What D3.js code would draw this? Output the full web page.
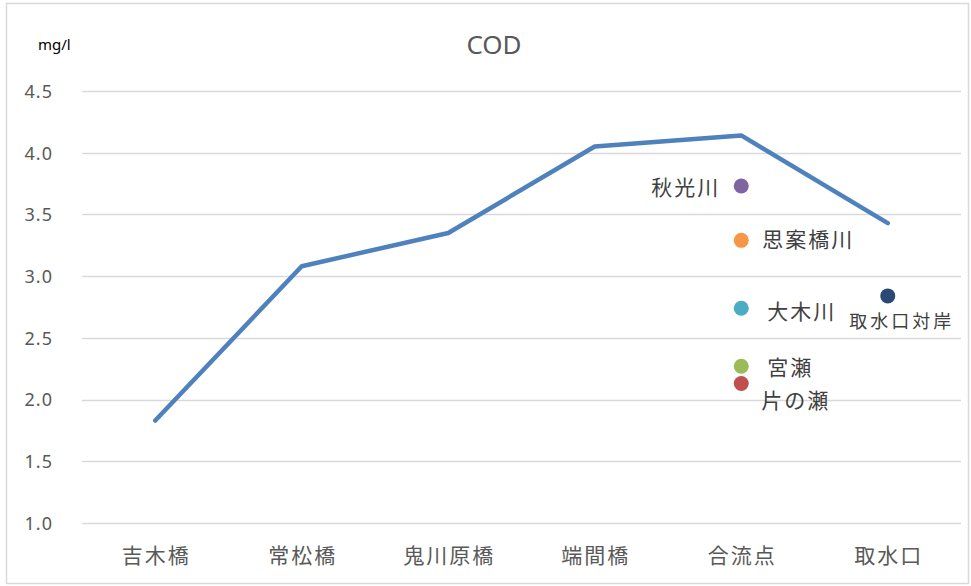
<!DOCTYPE html>
<html><head><meta charset="utf-8">
<script src="https://cdn.jsdelivr.net/npm/d3@7"></script>
<style>body{margin:0;background:#fff}svg{display:block}</style>
</head><body>
<svg id="c" width="971" height="586"></svg>
<script>
const categories = ["吉木橋","常松橋","鬼川原橋","端間橋","合流点","取水口"];
const codValues = [1.83, 3.08, 3.35, 4.05, 4.14, 3.43];
const yTicks = [1.0,1.5,2.0,2.5,3.0,3.5,4.0,4.5];
const pointNames = ["秋光川","思案橋川","大木川","宮瀬","片の瀬","取水口対岸"];
const pointCats = ["合流点","合流点","合流点","合流点","合流点","取水口"];
const pointValues = [3.73, 3.29, 2.74, 2.27, 2.13, 2.84];
const pointColors = ["#8064a2","#f79646","#4bacc6","#9bbb59","#c0504d","#2a4a74"];

const svg = d3.select("#c");
const jp = "'Noto Sans CJK JP', 'Noto Sans', sans-serif";
const num = "'Noto Sans', 'Liberation Sans', sans-serif";

svg.append("rect").attr("x",6.5).attr("y",3.5).attr("width",962).attr("height",580)
  .attr("fill","#fff").attr("stroke","#d9d9d9").attr("stroke-width",1.5);

const x = d3.scaleBand().domain(categories).range([82,961]);
const y = d3.scaleLinear().domain([1,4.5]).range([523,91]);
const cxOf = c => x(c)+x.bandwidth()/2;

// gridlines
svg.append("g").selectAll("line").data(yTicks).join("line")
  .attr("x1",82).attr("x2",961)
  .attr("y1",d=>Math.round(y(d))+0.5).attr("y2",d=>Math.round(y(d))+0.5)
  .attr("stroke","#d9d9d9").attr("stroke-width",1.5);

// y axis labels
const yAxis = d3.axisLeft(y).tickValues(yTicks).tickFormat(d3.format(".1f")).tickSize(0).tickPadding(0);
const ya = svg.append("g").attr("transform","translate(53,0)").call(yAxis);
ya.select(".domain").remove();
ya.selectAll("text").attr("font-family",num).attr("font-size",18).attr("letter-spacing",1)
  .attr("fill","#595959").attr("dy","0.35em");

// x axis labels
const xAxis = d3.axisBottom(x).tickSize(0).tickPadding(0);
const xa = svg.append("g").attr("transform","translate(1,546)").call(xAxis);
xa.select(".domain").remove();
xa.selectAll("text").attr("font-family",jp).attr("font-size",21).attr("letter-spacing",2)
  .attr("fill","#595959").attr("dy","0.8em");

// line
const line = d3.line().x((d,i)=>cxOf(categories[i])).y(d=>y(d));
svg.append("path").datum(codValues).attr("d",line)
  .attr("fill","none").attr("stroke","#4f81bd").attr("stroke-width",4.5)
  .attr("stroke-linejoin","round").attr("stroke-linecap","round");

// scatter points
const pts = pointNames.map((n,i)=>({name:n,cat:pointCats[i],v:pointValues[i],c:pointColors[i]}));
const labelOffsets = {
  "秋光川":   {dx:-21, dy:1,  anchor:"end",   fs:21},
  "思案橋川": {dx:21,  dy:-1, anchor:"start", fs:21},
  "大木川":   {dx:26,  dy:3,  anchor:"start", fs:21},
  "宮瀬":     {dx:26,  dy:1,  anchor:"start", fs:21},
  "片の瀬":   {dx:20,  dy:16, anchor:"start", fs:21},
  "取水口対岸": {dx:14, dy:25, anchor:"middle", fs:18}
};
const g = svg.append("g");
g.selectAll("circle").data(pts).join("circle")
  .attr("cx",d=>cxOf(d.cat)).attr("cy",d=>y(d.v)).attr("r",7.5)
  .attr("fill",d=>d.c);
g.selectAll("text").data(pts).join("text")
  .attr("font-family",jp).attr("fill","#404040")
  .attr("font-size",d=>labelOffsets[d.name].fs)
  .attr("letter-spacing",d=>d.name==="取水口対岸"?3:2)
  .attr("x",d=>cxOf(d.cat)+labelOffsets[d.name].dx)
  .attr("y",d=>y(d.v)+labelOffsets[d.name].dy + 0.38*labelOffsets[d.name].fs)
  .attr("text-anchor",d=>labelOffsets[d.name].anchor)
  .text(d=>d.name);

// title and unit
svg.append("text").attr("x",494).attr("y",54).attr("text-anchor","middle")
  .attr("font-family",num).attr("font-size",26).attr("fill","#595959").text("COD");
svg.append("text").attr("x",38).attr("y",50)
  .attr("font-family",num).attr("font-size",15).attr("fill","#000").text("mg/l");
</script>
</body></html>
